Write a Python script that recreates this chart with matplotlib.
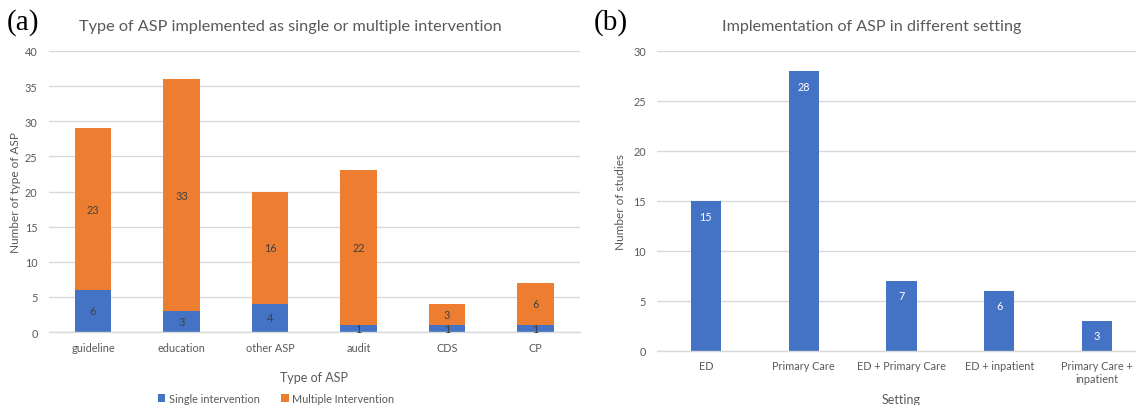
import matplotlib
matplotlib.use("Agg")
import matplotlib.pyplot as plt
import numpy as np

# Panel (a) data
asp_types = ["guideline", "education", "other ASP", "audit", "CDS", "CP"]
single = [6, 3, 4, 1, 1, 1]
multiple = [23, 33, 16, 22, 3, 6]

# Panel (b) data
settings = ["ED", "Primary Care", "ED + Primary Care", "ED + inpatient", "Primary Care +\ninpatient"]
studies = [15, 28, 7, 6, 3]

BLUE = "#4472C4"
ORANGE = "#ED7D31"
GRID = "#D9D9D9"
TXT = "#595959"
FONT = "Lato"

W, H = 1136, 406
fig = plt.figure(figsize=(W / 100, H / 100), dpi=100)
plt.rcParams["font.family"] = [FONT, "DejaVu Sans"]

def px_axes(x0, y0, x1, y1):
    return fig.add_axes([x0 / W, 1 - y1 / H, (x1 - x0) / W, (y1 - y0) / H])

def style(ax):
    for s in ["top", "right", "left"]:
        ax.spines[s].set_visible(False)
    ax.spines["bottom"].set_color(GRID)
    ax.spines["bottom"].set_linewidth(1.0)
    ax.grid(axis="y", color=GRID, linewidth=1.0)
    ax.set_axisbelow(True)
    ax.tick_params(axis="both", length=0, colors=TXT, labelsize=7.8)
    ax.tick_params(axis="y", pad=8)
    ax.tick_params(axis="x", pad=7)

# ---- Panel (a)
ax1 = px_axes(48.75, 52, 579.75, 333)
x = np.arange(len(asp_types))
ax1.bar(x, single, width=0.41, color=BLUE, label="Single intervention")
ax1.bar(x, multiple, width=0.41, bottom=single, color=ORANGE, label="Multiple Intervention")
ax1.set_xlim(-0.5, len(asp_types) - 0.5)
ax1.set_ylim(0, 40)
ax1.set_yticks(range(0, 41, 5))
ax1.set_xticks(x)
ax1.set_xticklabels(asp_types)
style(ax1)
for i in range(len(asp_types)):
    ax1.text(x[i], single[i] / 2, str(single[i]), ha="center", va="center", fontsize=7.8, color="#404040")
    ax1.text(x[i], single[i] + multiple[i] / 2, str(multiple[i]), ha="center", va="center", fontsize=7.8, color="#404040")
ax1.set_xlabel("Type of ASP", fontsize=9, color=TXT, labelpad=13)
ax1.set_ylabel("Number of type of ASP", fontsize=8.5, color=TXT, labelpad=3)
fig.text(290 / W, 1 - 27 / H, "Type of ASP implemented as single or multiple intervention", fontsize=11.7,
         color=TXT, ha="center", va="center")
leg = ax1.legend(loc="center", bbox_to_anchor=(0.428, -0.235), ncol=2, frameon=False, borderpad=0,
                 fontsize=7.8, handlelength=0.7, handleheight=0.7, handletextpad=0.3, columnspacing=2.0)
for t in leg.get_texts():
    t.set_color(TXT)

# ---- Panel (b)
ax2 = px_axes(657, 52, 1146, 351.7)
x2 = np.arange(len(settings))
ax2.bar(x2, studies, width=0.31, color=BLUE)
ax2.set_xlim(-0.5, len(settings) - 0.5)
ax2.set_ylim(0, 30)
ax2.set_yticks(range(0, 31, 5))
ax2.set_xticks(x2)
ax2.set_xticklabels(settings)
style(ax2)
for i in range(len(settings)):
    ax2.annotate(str(studies[i]), (x2[i], studies[i]), xytext=(0, -7), textcoords="offset points",
                 ha="center", va="top", fontsize=7.8, color="white")
ax2.set_xlabel("Setting", fontsize=9, color=TXT, labelpad=6)
ax2.set_ylabel("Number of studies", fontsize=8.5, color=TXT, labelpad=5)
fig.text(872 / W, 1 - 27 / H, "Implementation of ASP in different setting", fontsize=11.6, color=TXT,
         ha="center", va="center")

# Panel letters
fig.text(7 / W, 1 - 23 / H, "(a)", fontsize=21, family="Liberation Serif", ha="left", va="center")
fig.text(594 / W, 1 - 23 / H, "(b)", fontsize=21, family="Liberation Serif", ha="left", va="center")

fig.savefig("out.png", dpi=100)
